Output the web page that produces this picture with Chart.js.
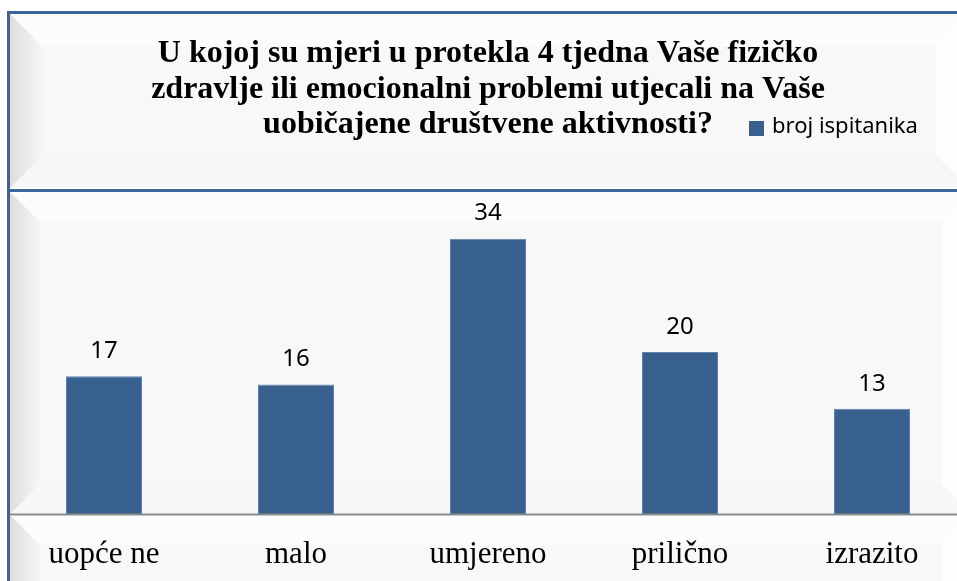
<!DOCTYPE html>
<html>
<head>
<meta charset="utf-8">
<script src="https://cdn.jsdelivr.net/npm/chart.js@4/dist/chart.umd.min.js"></script>
<style>
  html, body { margin: 0; padding: 0; background: #ffffff; overflow: hidden; width: 957px; height: 581px; }
  #wrap { position: relative; width: 957px; height: 581px; overflow: hidden; }
  canvas { display: block; }
</style>
</head>
<body>
<div id="wrap"><canvas id="c" width="974" height="581"></canvas></div>
<script>
// ---- data ----
const categories = ["uopće ne", "malo", "umjereno", "prilično", "izrazito"];
const seriesName = "broj ispitanika";
const values = [17, 16, 34, 20, 13];
const titleLines = [
  "U kojoj su mjeri u protekla 4 tjedna Vaše fizičko",
  "zdravlje ili emocionalni problemi utjecali na Vaše",
  "uobičajene društvene aktivnosti?"
];
const yMin = 0;
const yMax = 40;

// ---- styles ----
const BAR = '#37608F';
const FRAME = '#3A669A';

function bevelRect(ctx, x0, y0, x1, y1, w) {
  ctx.save();
  ctx.fillStyle = '#f8f8f8';
  ctx.fillRect(x0, y0, x1 - x0, y1 - y0);
  // top strip
  ctx.beginPath();
  ctx.moveTo(x0, y0); ctx.lineTo(x1, y0); ctx.lineTo(x1 - w, y0 + w); ctx.lineTo(x0 + w, y0 + w); ctx.closePath();
  ctx.fillStyle = '#fcfcfc'; ctx.fill();
  // right strip
  ctx.beginPath();
  ctx.moveTo(x1, y0); ctx.lineTo(x1, y1); ctx.lineTo(x1 - w, y1 - w); ctx.lineTo(x1 - w, y0 + w); ctx.closePath();
  ctx.fillStyle = '#fdfdfd'; ctx.fill();
  // bottom strip
  ctx.beginPath();
  ctx.moveTo(x0, y1); ctx.lineTo(x1, y1); ctx.lineTo(x1 - w, y1 - w); ctx.lineTo(x0 + w, y1 - w); ctx.closePath();
  ctx.fillStyle = '#f7f7f7'; ctx.fill();
  // left strip
  const g = ctx.createLinearGradient(x0, 0, x0 + w, 0);
  g.addColorStop(0, '#dedede');
  g.addColorStop(1, '#f6f6f6');
  ctx.beginPath();
  ctx.moveTo(x0, y0); ctx.lineTo(x0 + w, y0 + w); ctx.lineTo(x0 + w, y1 - w); ctx.lineTo(x0, y1); ctx.closePath();
  ctx.fillStyle = g; ctx.fill();
  ctx.restore();
}

const backgroundPlugin = {
  id: 'bg',
  beforeDraw(chart) {
    const ctx = chart.ctx;
    const a = chart.chartArea;
    ctx.save();
    ctx.fillStyle = '#ffffff';
    ctx.fillRect(0, 0, chart.width, chart.height);
    bevelRect(ctx, 10, 14, 968, a.top - 2, 32);
    bevelRect(ctx, 10, a.top + 2, 972, a.bottom, 30);
    bevelRect(ctx, 10, a.bottom + 1, 972, 615, 30);
    ctx.restore();
  },
  afterDatasetsDraw(chart) {
    const ctx = chart.ctx;
    const a = chart.chartArea;
    ctx.save();
    // floor line
    ctx.strokeStyle = '#8c8c8c';
    ctx.lineWidth = 2;
    ctx.beginPath(); ctx.moveTo(10, a.bottom + 0.5); ctx.lineTo(chart.width, a.bottom + 0.5); ctx.stroke();
    // frame lines
    ctx.strokeStyle = FRAME;
    ctx.lineWidth = 3;
    ctx.beginPath(); ctx.moveTo(7, 12.5); ctx.lineTo(chart.width, 12.5); ctx.stroke();
    ctx.beginPath(); ctx.moveTo(8.5, 11); ctx.lineTo(8.5, chart.height); ctx.stroke();
    ctx.beginPath(); ctx.moveTo(7, a.top + 0.5); ctx.lineTo(chart.width, a.top + 0.5); ctx.stroke();
    // value labels
    ctx.fillStyle = '#000000';
    ctx.font = '24px "Noto Sans"';
    ctx.textAlign = 'center';
    ctx.textBaseline = 'middle';
    const meta = chart.getDatasetMeta(0);
    meta.data.forEach((bar, i) => {
      ctx.fillText(String(chart.data.datasets[0].data[i]), bar.x, bar.y - 25);
    });
    // legend
    ctx.fillStyle = BAR;
    ctx.fillRect(749, 121, 15, 15);
    ctx.fillStyle = '#000000';
    ctx.font = '22px "Noto Sans"';
    ctx.textAlign = 'left';
    ctx.fillText(chart.data.datasets[0].label, 772, 127);
    ctx.restore();
  }
};

new Chart(document.getElementById('c'), {
  type: 'bar',
  data: {
    labels: categories,
    datasets: [{
      label: seriesName,
      data: values,
      backgroundColor: BAR,
      borderColor: '#5f83ae',
      borderWidth: 1,
      categoryPercentage: 1.0,
      barPercentage: 0.396
    }]
  },
  options: {
    responsive: false,
    animation: false,
    devicePixelRatio: 1,
    layout: { padding: { left: 8, right: 6, top: 0, bottom: 0 } },
    plugins: {
      legend: { display: false },
      tooltip: { enabled: false },
      title: {
        display: true,
        text: titleLines,
        color: '#000000',
        align: 'center',
        font: { family: '"Liberation Serif", "Times New Roman", serif', size: 32, weight: 'bold', lineHeight: 1.11 },
        padding: { top: 36, bottom: 47.5 }
      }
    },
    scales: {
      x: {
        grid: { display: false, drawTicks: false },
        border: { display: false },
        ticks: {
          color: '#000000',
          padding: 22,
          maxRotation: 0,
          font: { family: '"Liberation Serif", "Times New Roman", serif', size: 31, lineHeight: 1.2 }
        },
        afterFit(scale) { scale.height = 67; }
      },
      y: {
        display: false,
        min: yMin,
        max: yMax
      }
    }
  },
  plugins: [backgroundPlugin]
});
</script>
</body>
</html>
